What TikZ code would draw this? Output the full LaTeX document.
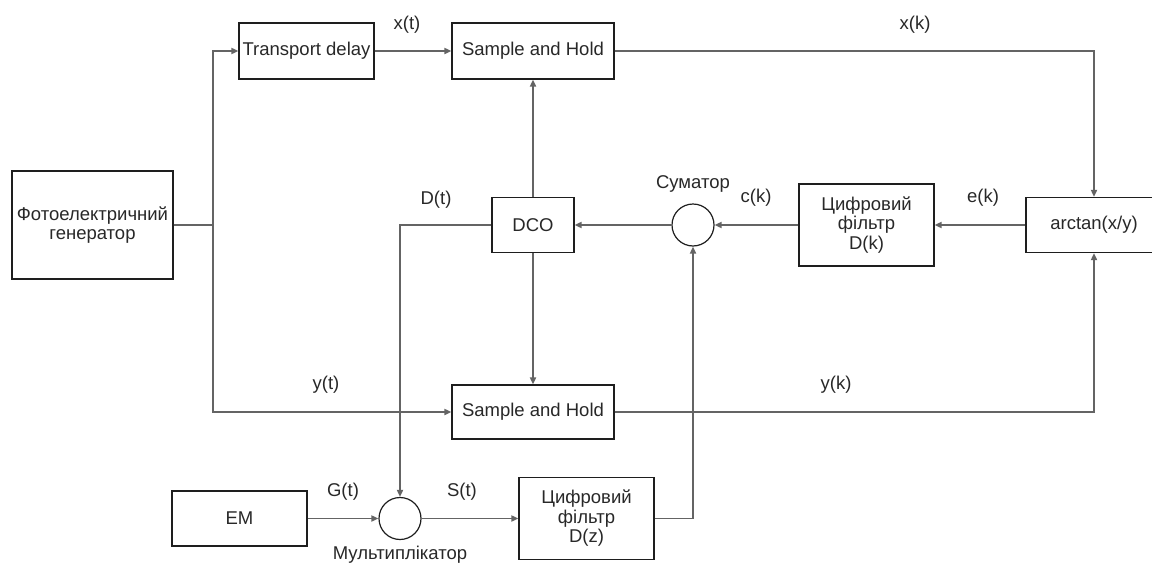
\documentclass[tikz,border=0pt]{standalone}
\usepackage{fontspec}
\setmainfont{Liberation Sans}
\usetikzlibrary{arrows.meta}
\definecolor{linec}{RGB}{100,100,100}
\definecolor{boxc}{RGB}{30,30,30}
\definecolor{txtc}{RGB}{40,40,40}
\begin{document}
\begin{tikzpicture}[x=1pt,y=-1pt,
  box/.style={draw=boxc,line width=1.2pt,inner sep=0pt,align=center,text=txtc,font=\fontsize{18.5}{19.5}\selectfont},
  sumc/.style={draw=boxc,line width=1.2pt,circle,inner sep=0pt,minimum size=42pt},
  lbl/.style={text=txtc,inner sep=0pt,font=\fontsize{18.5}{19.5}\selectfont},
  conn/.style={draw=linec,line width=1.7pt,-{Triangle[length=7pt,width=6pt]}}]
\useasboundingbox[fill=white] (0,0) rectangle (1152,565);
% blocks
\node[box,minimum width=161pt,minimum height=108pt] (gen) at (92.5,225) {Фотоелектричний\\генератор};
\node[box,minimum width=135pt,minimum height=56pt] (td) at (306.5,51) {Transport delay};
\node[box,minimum width=162pt,minimum height=56pt] (sh1) at (533,51) {Sample and Hold};
\node[box,minimum width=162pt,minimum height=54pt] (sh2) at (533,412) {Sample and Hold};
\node[box,minimum width=82pt,minimum height=55pt] (dco) at (533,225) {DCO};
\node[sumc] (sum) at (693,225) {};
\node[box,minimum width=135pt,minimum height=82pt] (fk) at (866.5,225) {Цифровий\\фільтр\\D(k)};
\node[box,minimum width=136pt,minimum height=55pt] (atan) at (1094,225) {arctan(x/y)};
\node[box,minimum width=135pt,minimum height=55pt] (em) at (239.5,518.5) {EM};
\node[sumc] (mul) at (400,518.5) {};
\node[box,minimum width=135pt,minimum height=82pt] (fz) at (586.5,518.5) {Цифровий\\фільтр\\D(z)};
% labels
\node[lbl] (lxt) at (407,25) {x(t)};
\node[lbl] (lxk) at (915,25) {x(k)};
\node[lbl] (lsum) at (693,184) {Суматор};
\node[lbl] (lck) at (756,198) {c(k)};
\node[lbl] (lek) at (983,198) {e(k)};
\node[lbl] (ldt) at (436,200) {D(t)};
\node[lbl] (lyt) at (326,385) {y(t)};
\node[lbl] (lyk) at (836,385) {y(k)};
\node[lbl] (lgt) at (343,492) {G(t)};
\node[lbl] (lst) at (462,492) {S(t)};
\node[lbl] (lmul) at (400,555) {Мультиплікатор};
% junction
\coordinate (j) at (213,225);
% connectors
\draw[conn] (gen.east) -- (j) |- (td.west);
\draw[conn] (gen.east) -- (j) |- (sh2.west);
\draw[conn] (td) -- (sh1);
\draw[conn] (sh1.east) -| (atan.north);
\draw[conn] (sh2.east) -| (atan.south);
\draw[conn] (atan) -- (fk);
\draw[conn] (fk) -- (sum);
\draw[conn] (sum) -- (dco);
\draw[conn] (dco) -- (sh1);
\draw[conn] (dco) -- (sh2);
\draw[conn] (dco.west) -| (mul.north);
\draw[conn] (em) -- (mul);
\draw[conn] (mul) -- (fz);
\draw[conn] (fz.east) -| (sum.south);
\end{tikzpicture}
\end{document}
